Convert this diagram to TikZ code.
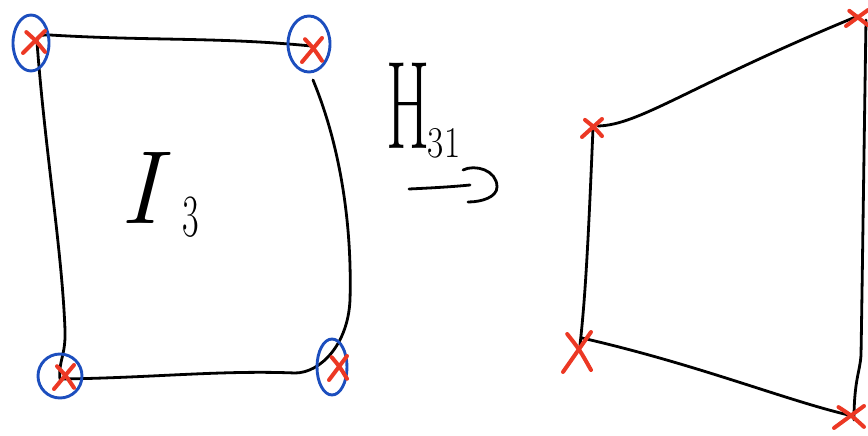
\documentclass[tikz,border=0pt]{standalone}
\definecolor{inkblue}{RGB}{28,78,190}
\definecolor{inkred}{RGB}{236,56,36}
\newcommand\redx[4]{% x y half-width half-height
  \draw[redink] ({#1-#3},{#2+#4}) .. controls ({#1-0.2*#3},{#2+0.2*#4}) .. ({#1+#3},{#2-#4});
  \draw[redink] ({#1-0.7*#3},{#2-0.9*#4}) .. controls ({#1+0.2*#3},{#2-0.1*#4}) .. ({#1+#3},{#2+0.9*#4});
}
\begin{document}
\begin{tikzpicture}[x=1pt,y=-1pt,
  ink/.style={line width=2.8pt,line cap=round,line join=round,black},
  blueink/.style={line width=2.9pt,inkblue},
  redink/.style={line width=4pt,line cap=round,inkred},
  hand/.style={inner sep=0pt,outer sep=0pt}]
\useasboundingbox (0,0) rectangle (868,436);
% left quadrilateral corners
\coordinate (LTL) at (37,42);
\coordinate (LTR) at (311,46);
\coordinate (LBL) at (60,379);
\coordinate (LBR) at (333,368);
\coordinate (LRs) at (313,80);
% left quadrilateral edges
\draw[ink] (LTL) .. controls (37,35) and (40,35) .. (50,35) .. controls (150,41) and (220,37) .. (LTR);
\draw[ink] (LTL) .. controls (45,150) and (62,250) .. (65,330) .. controls (66,355) and (58,362) .. (LBL);
\draw[ink] (LRs) .. controls (342,150) and (352,230) .. (350,300) .. controls (348,345) and (320,373) .. (295,373) .. controls (220,370) and (150,378) .. (LBL);
% circles
\draw[blueink] (31,43) ellipse [x radius=18, y radius=28];
\draw[blueink] (309,44) ellipse [x radius=21, y radius=28];
\draw[blueink] (60,376) ellipse [x radius=22, y radius=22];
\draw[blueink] (332,367) ellipse [x radius=15, y radius=28];
% crosses on left
\redx{34}{42}{11}{11}
\redx{312}{50}{10}{12}
\redx{64}{377}{10}{12}
\redx{338}{368}{9}{12}
% labels
\node[hand] (I) at (140,188) {\fontsize{104}{104}\selectfont\itshape I};
\node[hand,xscale=0.6] (I3) at (191,217) {\fontsize{60}{60}\selectfont 3};
\node[hand,xscale=0.5] (H) at (408,106) {\fontsize{125}{125}\selectfont H};
\node[hand,xscale=0.8] (H31) at (444,143) {\fontsize{44}{44}\selectfont 31};
% arrow
\coordinate (A0) at (409,189);
\coordinate (A1) at (470,185);
\draw[ink] (A0) .. controls (430,188) and (450,187) .. (A1);
\draw[ink] (463,170) .. controls (475,164) and (497,170) .. (497,187) .. controls (497,197) and (482,202) .. (468,202);
% right quadrilateral corners
\coordinate (RTL) at (593,128);
\coordinate (RTR) at (858,16);
\coordinate (RBL) at (580,345);
\coordinate (RBR) at (853,416);
\draw[ink] (598,126) .. controls (640,125) and (690,85) .. (RTR);
\draw[ink] (RTL) .. controls (588,250) and (585,300) .. (RBL);
\draw[ink] (582,338) .. controls (700,365) and (790,402) .. (RBR);
\draw[ink] (866,20) .. controls (864,150) and (862,300) .. (861,355) .. controls (860,372) and (854,380) .. (854,420);
% crosses on right
\redx{592}{128}{10}{9}
\redx{857}{18}{11}{8}
\redx{577}{352}{14}{20}
\redx{849}{417}{15}{11}
\end{tikzpicture}
\end{document}
